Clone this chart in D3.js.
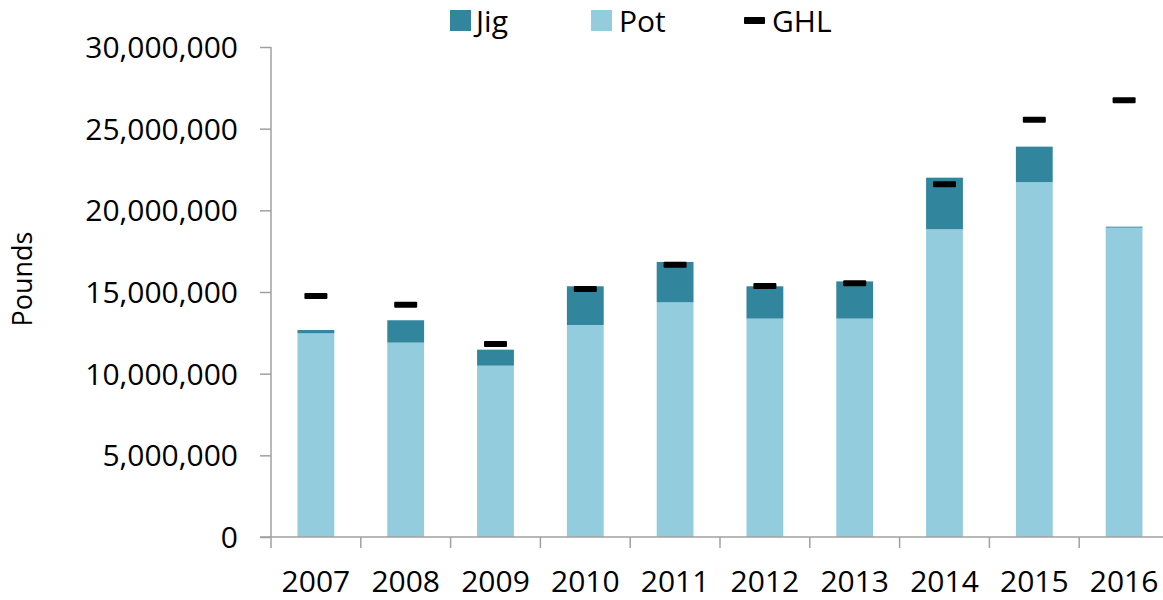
<!DOCTYPE html>
<html>
<head>
<meta charset="utf-8">
<script src="https://cdn.jsdelivr.net/npm/d3@7"></script>
<style>
	body { margin: 0; background: #fff; }
	text { font-family: "Open Sans", "Noto Sans", sans-serif; fill: #000; }
</style>
</head>
<body>
<script>
var width = 1163,
	height = 600;

// Chart data
var years = ["2007", "2008", "2009", "2010", "2011", "2012", "2013", "2014", "2015", "2016"];
var pot = [12470000, 11900000, 10490000, 12980000, 14370000, 13370000, 13370000, 18840000, 21730000, 18940000];
var jig = [200000, 1370000, 980000, 2370000, 2470000, 1980000, 2280000, 3160000, 2170000, 60000];
var ghl = [14760000, 14220000, 11820000, 15180000, 16670000, 15370000, 15530000, 21590000, 25550000, 26740000];
var yTicks = [0, 5000000, 10000000, 15000000, 20000000, 25000000, 30000000];

var colors = { jig: "#31859c", pot: "#93cddd", ghl: "#000" };
var axisColor = "#a0a0a0";

var margin = { left: 271, right: -6, top: 47, bottom: 63 };

var svg = d3.select("body").append("svg")
	.attr("width", width)
	.attr("height", height);

var x = d3.scaleBand()
	.domain(years)
	.range([margin.left, width - margin.right])
	.paddingInner(0.59)
	.paddingOuter(0.295);

var y = d3.scaleLinear()
	.domain([0, 30000000])
	.range([height - margin.bottom, margin.top]);

var fmt = d3.format(",");

// Y axis
var yAxis = svg.append("g")
	.attr("transform", "translate(" + margin.left + ",0)")
	.call(d3.axisLeft(y).tickValues(yTicks).tickFormat(fmt).tickSize(11).tickPadding(22));
yAxis.select(".domain").attr("stroke", axisColor).attr("stroke-width", 1.5).attr("d", "M0," + y(30000000) + "V" + y(0));
yAxis.selectAll(".tick line").attr("stroke", axisColor).attr("stroke-width", 1.5);
yAxis.selectAll(".tick text").style("font-size", "30px").attr("dy", "0.35em");

// Bars: pot at the bottom, jig stacked on top
var bars = svg.append("g");
bars.selectAll(".pot")
	.data(years)
	.enter().append("rect")
	.attr("class", "pot")
	.attr("x", function(d) { return x(d); })
	.attr("width", x.bandwidth())
	.attr("y", function(d, i) { return y(pot[i]); })
	.attr("height", function(d, i) { return y(0) - y(pot[i]); })
	.attr("fill", colors.pot);

bars.selectAll(".jig")
	.data(years)
	.enter().append("rect")
	.attr("class", "jig")
	.attr("x", function(d) { return x(d); })
	.attr("width", x.bandwidth())
	.attr("y", function(d, i) { return y(pot[i] + jig[i]); })
	.attr("height", function(d, i) { return y(pot[i]) - y(pot[i] + jig[i]); })
	.attr("fill", colors.jig);

// GHL markers
svg.append("g").selectAll("rect")
	.data(years)
	.enter().append("rect")
	.attr("x", function(d) { return x(d) + x.bandwidth() / 2 - 11.5; })
	.attr("y", function(d, i) { return y(ghl[i]) - 3; })
	.attr("width", 23)
	.attr("height", 6)
	.attr("rx", 1)
	.attr("fill", colors.ghl);

// X axis with ticks between categories
var xAxis = svg.append("g")
	.attr("transform", "translate(0," + y(0) + ")");
xAxis.append("line")
	.attr("x1", margin.left - 11)
	.attr("x2", width)
	.attr("stroke", axisColor)
	.attr("stroke-width", 1.5);
var step = x.step();
xAxis.selectAll(".xtick")
	.data(d3.range(years.length + 1))
	.enter().append("line")
	.attr("x1", function(i) { return margin.left + i * step; })
	.attr("x2", function(i) { return margin.left + i * step; })
	.attr("y1", 0)
	.attr("y2", 11)
	.attr("stroke", axisColor)
	.attr("stroke-width", 1.5);
xAxis.selectAll(".xlabel")
	.data(years)
	.enter().append("text")
	.attr("x", function(d) { return x(d) + x.bandwidth() / 2; })
	.attr("y", 55)
	.attr("text-anchor", "middle")
	.style("font-size", "30px")
	.text(function(d) { return d; });

// Y axis title
svg.append("text")
	.attr("transform", "translate(32,279) rotate(-90)")
	.attr("text-anchor", "middle")
	.style("font-size", "27px")
	.text("Pounds");

// Legend
var legend = svg.append("g");
legend.append("rect").attr("x", 450).attr("y", 10).attr("width", 21).attr("height", 21).attr("fill", colors.jig);
legend.append("text").attr("x", 476).attr("y", 32).style("font-size", "30px").text("Jig");
legend.append("rect").attr("x", 591).attr("y", 10).attr("width", 21).attr("height", 21).attr("fill", colors.pot);
legend.append("text").attr("x", 619).attr("y", 32).style("font-size", "30px").text("Pot");
legend.append("rect").attr("x", 744).attr("y", 17).attr("width", 21).attr("height", 7).attr("rx", 1).attr("fill", colors.ghl);
legend.append("text").attr("x", 772).attr("y", 32).style("font-size", "30px").text("GHL");
</script>
</body>
</html>
